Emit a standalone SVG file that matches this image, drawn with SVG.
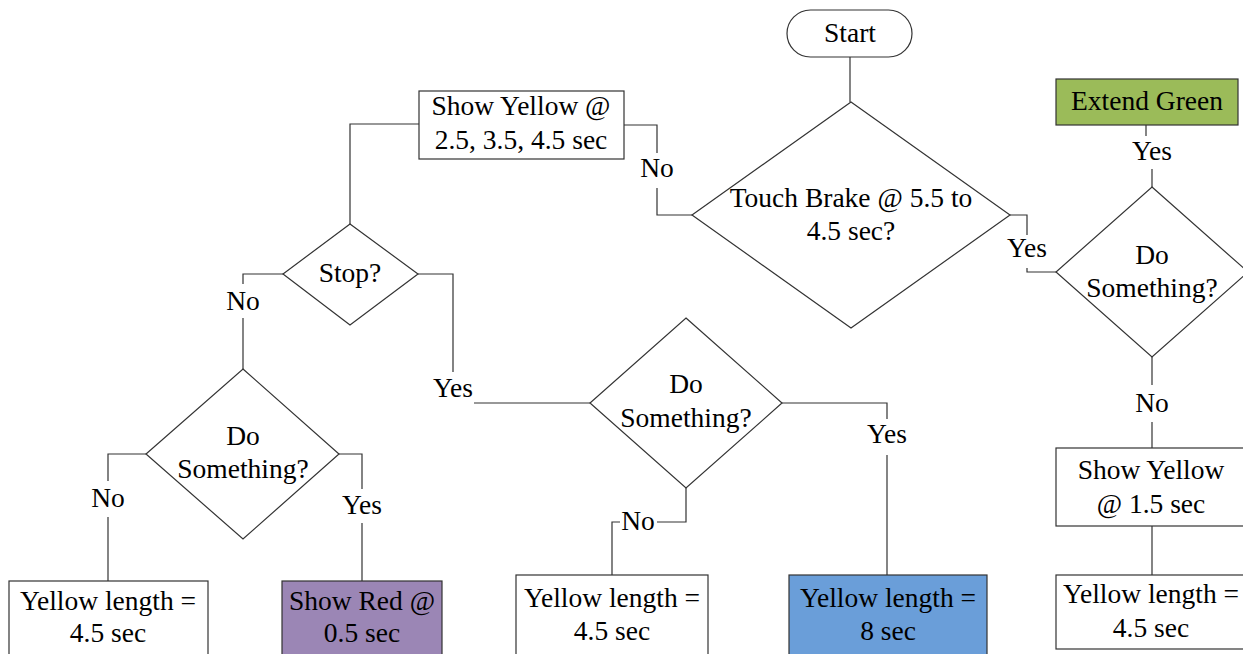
<svg xmlns="http://www.w3.org/2000/svg" width="1243" height="654" viewBox="0 0 1243 654">
<style>
.s{fill:#fff;stroke:#333;stroke-width:1.2}
.c{fill:none;stroke:#333;stroke-width:1.2}
</style>
<rect width="1243" height="654" fill="#fff"/>
<g font-family="'Liberation Serif', 'DejaVu Serif', serif" font-size="27.5" text-anchor="middle" fill="#000">
<g id="connectors">
<polyline class="c" points="850,57 850,102"/>
<polyline class="c" points="692,215 657,215 657,188"/>
<polyline class="c" points="657,153 657,125 624,125"/>
<polyline class="c" points="419,124 350,124 350,224"/>
<polyline class="c" points="1010,215 1027,215 1027,235"/>
<polyline class="c" points="1027,268 1027,272 1056,272"/>
<polyline class="c" points="1152,187 1152,169"/>
<polyline class="c" points="1146,136 1146,125"/>
<polyline class="c" points="1152,357 1152,385"/>
<polyline class="c" points="1152,422 1152,448"/>
<polyline class="c" points="1152,526 1152,575"/>
<polyline class="c" points="283,274 243,274 243,284"/>
<polyline class="c" points="243,318 243,369"/>
<polyline class="c" points="418,274 453,274 453,372"/>
<polyline class="c" points="474,403 590,403"/>
<polyline class="c" points="146,454 108,454 108,481"/>
<polyline class="c" points="108,517 108,581"/>
<polyline class="c" points="339,454 362,454 362,489"/>
<polyline class="c" points="362,523 362,581"/>
<polyline class="c" points="782,403 887,403 887,419"/>
<polyline class="c" points="887,455 887,575"/>
<polyline class="c" points="686,488 686,522 657,522"/>
<polyline class="c" points="620,522 612,522 612,575"/>
<text x="657" y="177">No</text>
<text x="1027" y="257">Yes</text>
<text x="1152" y="160">Yes</text>
<text x="1152" y="412">No</text>
<text x="243" y="310">No</text>
<text x="453" y="397">Yes</text>
<text x="108" y="507">No</text>
<text x="362" y="514">Yes</text>
<text x="887" y="443">Yes</text>
<text x="638" y="530">No</text>
</g>
<g id="start">
<rect class="s" x="787" y="10" width="125" height="47" rx="23.5"/>
<text x="850" y="42">Start</text>
</g>
<g id="touch-brake">
<polygon class="s" points="851,102 1010,215 851,328 692,215"/>
<text x="851" y="207">Touch Brake @ 5.5 to</text>
<text x="851" y="240">4.5 sec?</text>
</g>
<g id="show-yellow-1">
<rect class="s" x="419" y="91" width="205" height="68"/>
<text x="521" y="115">Show Yellow @</text>
<text x="521" y="149">2.5, 3.5, 4.5 sec</text>
</g>
<g id="extend-green">
<rect class="s" x="1056" y="79" width="182" height="46" style="fill:#9bbb59"/>
<text x="1147" y="110">Extend Green</text>
</g>
<g id="do-something-right">
<polygon class="s" points="1152,187 1248,272 1152,357 1056,272"/>
<text x="1152" y="264">Do</text>
<text x="1152" y="297">Something?</text>
</g>
<g id="stop">
<polygon class="s" points="350,224 418,274 350,325 283,274"/>
<text x="350" y="282">Stop?</text>
</g>
<g id="do-something-middle">
<polygon class="s" points="686,318 782,403 686,488 590,403"/>
<text x="686" y="393">Do</text>
<text x="686" y="427">Something?</text>
</g>
<g id="do-something-left">
<polygon class="s" points="243,369 339,454 243,539 146,454"/>
<text x="243" y="445">Do</text>
<text x="243" y="478">Something?</text>
</g>
<g id="show-yellow-2">
<rect class="s" x="1056" y="448" width="200" height="78"/>
<text x="1151" y="479">Show Yellow</text>
<text x="1151" y="513">@ 1.5 sec</text>
</g>
<g id="yellow-length-right">
<rect class="s" x="1056" y="575" width="200" height="74"/>
<text x="1151" y="603">Yellow length =</text>
<text x="1151" y="637">4.5 sec</text>
</g>
<g id="yellow-length-left">
<rect class="s" x="9" y="581" width="199" height="90"/>
<text x="108" y="610">Yellow length =</text>
<text x="108" y="642">4.5 sec</text>
</g>
<g id="show-red">
<rect class="s" x="282" y="581" width="160" height="90" style="fill:#9b86b5"/>
<text x="362" y="610">Show Red @</text>
<text x="362" y="642">0.5 sec</text>
</g>
<g id="yellow-length-middle">
<rect class="s" x="516" y="575" width="192" height="90"/>
<text x="612" y="607">Yellow length =</text>
<text x="612" y="640">4.5 sec</text>
</g>
<g id="yellow-length-8">
<rect class="s" x="789" y="575" width="198" height="90" style="fill:#6a9ed9"/>
<text x="888" y="607">Yellow length =</text>
<text x="888" y="640">8 sec</text>
</g>
</g>
</svg>
